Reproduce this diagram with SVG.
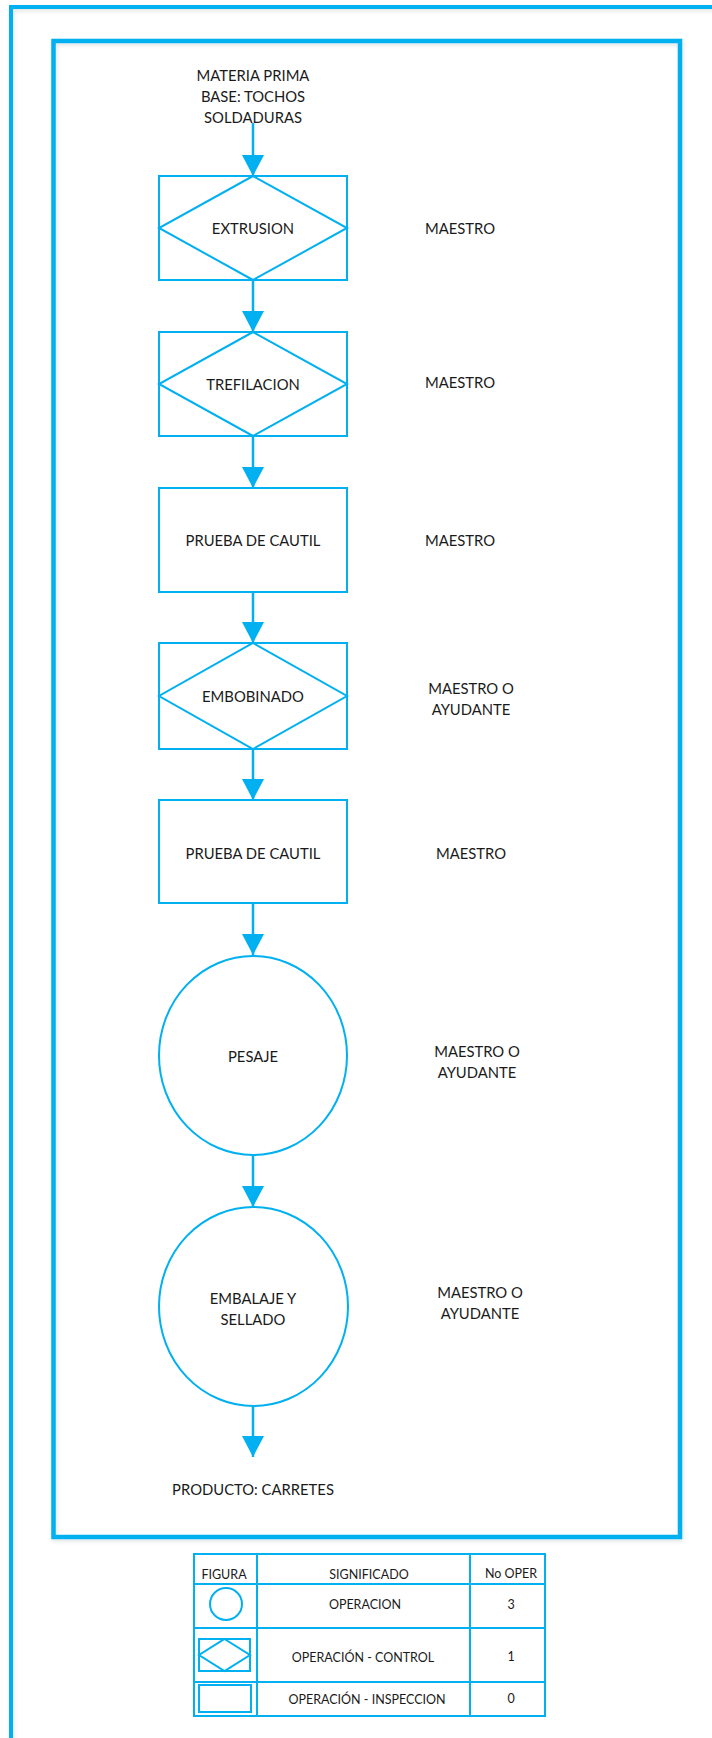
<svg xmlns="http://www.w3.org/2000/svg" width="712" height="1738" viewBox="0 0 712 1738">
  <defs>
    <marker id="arr" markerUnits="userSpaceOnUse" markerWidth="22" markerHeight="22" viewBox="0 0 22 22" refX="21" refY="11" orient="auto">
      <path d="M0,0 L21,11 L0,22 Z" fill="#00B0F0"/>
    </marker>
    <filter id="sh" x="-10%" y="-10%" width="120%" height="120%">
      <feGaussianBlur in="SourceAlpha" stdDeviation="2"/>
      <feOffset dx="1" dy="2" result="b"/>
      <feComponentTransfer><feFuncA type="linear" slope="0.12"/></feComponentTransfer>
      <feMerge><feMergeNode/><feMergeNode in="SourceGraphic"/></feMerge>
    </filter>
  </defs>
  <style>
    .f{fill:none;stroke:#00B0F0}
    .n{fill:#fff;stroke:#00B0F0;stroke-width:2}
    .t{font-family:Lato,"Liberation Sans",sans-serif;font-size:14.8px;fill:#1a1a1a;text-anchor:middle;dominant-baseline:central}
    .s{font-size:12.5px}
    .c{stroke:#00B0F0;stroke-width:2.5;fill:none;marker-end:url(#arr)}
  </style>
  <rect width="712" height="1738" fill="#fff"/>
  <g id="frames">
    <rect class="f" x="11" y="7" width="760" height="1800" stroke-width="4" filter="url(#sh)"/>
    <rect class="f" x="53.5" y="41" width="626.5" height="1496" stroke-width="4.5" filter="url(#sh)"/>
  </g>
  <g id="connectors">
    <path class="c" d="M253,123 V176"/>
    <path class="c" d="M253,280 V332"/>
    <path class="c" d="M253,436 V488"/>
    <path class="c" d="M253,592 V643"/>
    <path class="c" d="M253,749 V800"/>
    <path class="c" d="M253,903 V955"/>
    <path class="c" d="M253,1155 V1207"/>
    <path class="c" d="M253,1406 V1457"/>
  </g>
  <g id="start">
    <text class="t" x="253" y="75">MATERIA PRIMA</text>
    <text class="t" x="253" y="96">BASE: TOCHOS</text>
    <text class="t" x="253" y="117">SOLDADURAS</text>
  </g>
  <g id="n1">
    <rect class="n" x="159" y="176" width="188" height="104"/>
    <path class="f" stroke-width="2" d="M253,176 L347,228 L253,280 L159,228 Z"/>
    <text class="t" x="253" y="228">EXTRUSION</text>
    <text class="t" x="460" y="228">MAESTRO</text>
  </g>
  <g id="n2">
    <rect class="n" x="159" y="332" width="188" height="104"/>
    <path class="f" stroke-width="2" d="M253,332 L347,384 L253,436 L159,384 Z"/>
    <text class="t" x="253" y="384">TREFILACION</text>
    <text class="t" x="460" y="382">MAESTRO</text>
  </g>
  <g id="n3">
    <rect class="n" x="159" y="488" width="188" height="104"/>
    <text class="t" x="253" y="540">PRUEBA DE CAUTIL</text>
    <text class="t" x="460" y="540">MAESTRO</text>
  </g>
  <g id="n4">
    <rect class="n" x="159" y="643" width="188" height="106"/>
    <path class="f" stroke-width="2" d="M253,643 L347,696 L253,749 L159,696 Z"/>
    <text class="t" x="253" y="696">EMBOBINADO</text>
    <text class="t" x="471" y="688">MAESTRO O</text>
    <text class="t" x="471" y="709">AYUDANTE</text>
  </g>
  <g id="n5">
    <rect class="n" x="159" y="800" width="188" height="103"/>
    <text class="t" x="253" y="853">PRUEBA DE CAUTIL</text>
    <text class="t" x="471" y="853">MAESTRO</text>
  </g>
  <g id="n6">
    <ellipse class="n" cx="253" cy="1055.5" rx="94" ry="99.5"/>
    <text class="t" x="253" y="1056">PESAJE</text>
    <text class="t" x="477" y="1051">MAESTRO O</text>
    <text class="t" x="477" y="1072">AYUDANTE</text>
  </g>
  <g id="n7">
    <ellipse class="n" cx="253.5" cy="1306.5" rx="94.5" ry="99.5"/>
    <text class="t" x="253" y="1298">EMBALAJE Y</text>
    <text class="t" x="253" y="1319">SELLADO</text>
    <text class="t" x="480" y="1292">MAESTRO O</text>
    <text class="t" x="480" y="1313">AYUDANTE</text>
  </g>
  <g id="end">
    <text class="t" x="253" y="1489">PRODUCTO: CARRETES</text>
  </g>
  <g id="legend">
    <rect x="194" y="1554" width="351" height="162" fill="#fff" stroke="#00B0F0" stroke-width="2"/>
    <path class="f" stroke-width="2" d="M257,1554 V1716 M470,1554 V1716 M194,1584 H545 M194,1628 H545 M194,1682 H545"/>
    <text class="t s" x="224" y="1574">FIGURA</text>
    <text class="t s" x="369" y="1574">SIGNIFICADO</text>
    <text class="t s" x="511" y="1573">No OPER</text>
    <circle class="f" stroke-width="2" cx="226" cy="1604" r="16"/>
    <text class="t s" x="365" y="1604">OPERACION</text>
    <text class="t s" x="511" y="1604">3</text>
    <rect class="f" stroke-width="2" x="199" y="1639" width="51" height="32"/>
    <path class="f" stroke-width="2" d="M224.5,1639 L250,1655 L224.5,1671 L199,1655 Z"/>
    <text class="t s" x="363" y="1657">OPERACIÓN - CONTROL</text>
    <text class="t s" x="511" y="1656">1</text>
    <rect class="f" stroke-width="2" x="199" y="1685" width="52" height="27"/>
    <text class="t s" x="367" y="1699">OPERACIÓN - INSPECCION</text>
    <text class="t s" x="511" y="1698">0</text>
  </g>
</svg>
